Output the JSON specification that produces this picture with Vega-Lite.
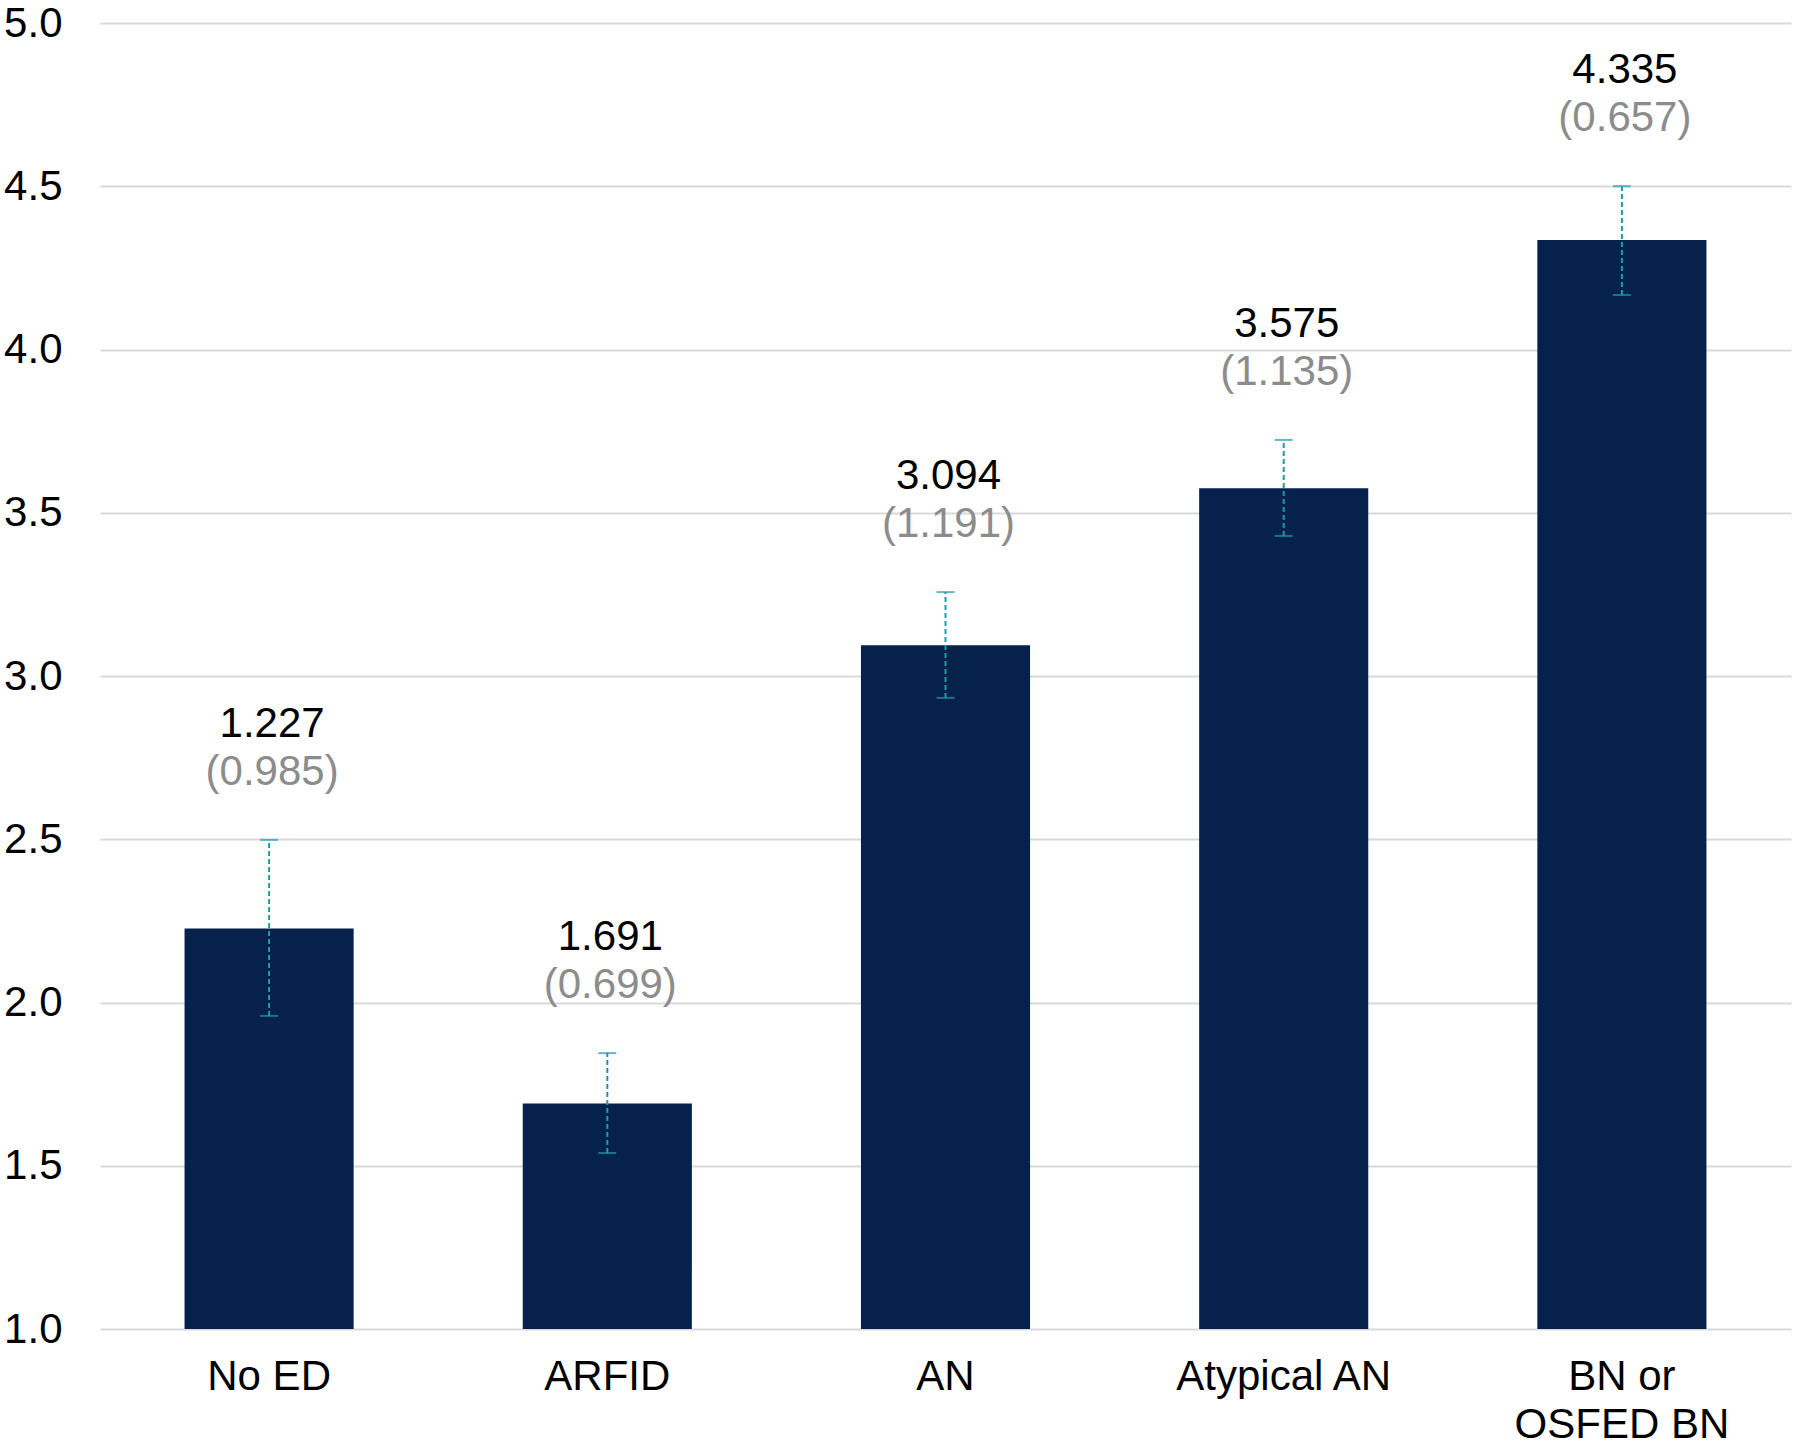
{
  "$schema": "https://vega.github.io/schema/vega-lite/v6.json",
  "autosize": {"type": "none"},
  "padding": {"left": 100, "top": 23, "right": 9, "bottom": 115},
  "width": 1691,
  "height": 1306,
  "background": "white",
  "config": {
    "view": {"stroke": null},
    "font": "Liberation Sans"
  },
  "data": {
    "values": [
      {"group": "No ED", "mean": 2.227, "label": "1.227", "sd": "(0.985)", "lo": 1.959, "hi": 2.498},
      {"group": "ARFID", "mean": 1.691, "label": "1.691", "sd": "(0.699)", "lo": 1.539, "hi": 1.845},
      {"group": "AN", "mean": 3.094, "label": "3.094", "sd": "(1.191)", "lo": 2.933, "hi": 3.257},
      {"group": "Atypical AN", "mean": 3.575, "label": "3.575", "sd": "(1.135)", "lo": 3.429, "hi": 3.723},
      {"group": "BN or OSFED BN", "mean": 4.335, "label": "4.335", "sd": "(0.657)", "lo": 4.167, "hi": 4.5}
    ]
  },
  "encoding": {
    "x": {
      "field": "group",
      "type": "nominal",
      "sort": null,
      "scale": {"paddingInner": 0.5, "paddingOuter": 0.25},
      "axis": {
        "title": null,
        "labelAngle": 0,
        "labelFontSize": 42,
        "labelColor": "#000000",
        "labelFont": "Liberation Sans",
        "labelPadding": 27,
        "labelLimit": 0,
        "labelLineHeight": 48,
        "labelExpr": "datum.label == 'BN or OSFED BN' ? ['BN or', 'OSFED BN'] : datum.label",
        "ticks": false,
        "domain": false,
        "grid": false
      }
    }
  },
  "layer": [
    {
      "mark": {"type": "bar", "color": "#06214c"},
      "encoding": {
        "y": {
          "field": "mean",
          "type": "quantitative",
          "scale": {"domain": [1, 5], "zero": false, "nice": false},
          "axis": {
            "title": null,
            "values": [1, 1.5, 2, 2.5, 3, 3.5, 4, 4.5, 5],
            "format": ".1f",
            "labelFontSize": 42,
            "labelColor": "#000000",
            "labelFont": "Liberation Sans",
            "labelPadding": 38,
            "ticks": false,
            "domain": false,
            "grid": true,
            "gridColor": "#d9d9d9",
            "gridWidth": 2,
            "zindex": 0
          }
        },
        "y2": {"datum": 1}
      }
    },
    {
      "mark": {"type": "rule", "color": "#1f9aa6", "strokeWidth": 2, "strokeDash": [5, 3]},
      "encoding": {
        "y": {"field": "lo", "type": "quantitative"},
        "y2": {"field": "hi"}
      }
    },
    {
      "mark": {"type": "tick", "color": "#1f9aa6", "size": 18, "thickness": 2},
      "encoding": {
        "y": {"field": "lo", "type": "quantitative"}
      }
    },
    {
      "mark": {"type": "tick", "color": "#1f9aa6", "size": 18, "thickness": 2},
      "encoding": {
        "y": {"field": "hi", "type": "quantitative"}
      }
    },
    {
      "mark": {"type": "text", "fontSize": 42, "color": "#000000", "baseline": "middle", "dy": -116, "dx": 3},
      "encoding": {
        "y": {"field": "hi", "type": "quantitative"},
        "text": {"field": "label"}
      }
    },
    {
      "mark": {"type": "text", "fontSize": 42, "color": "#8c8c8c", "baseline": "middle", "dy": -68, "dx": 3},
      "encoding": {
        "y": {"field": "hi", "type": "quantitative"},
        "text": {"field": "sd"}
      }
    }
  ]
}
